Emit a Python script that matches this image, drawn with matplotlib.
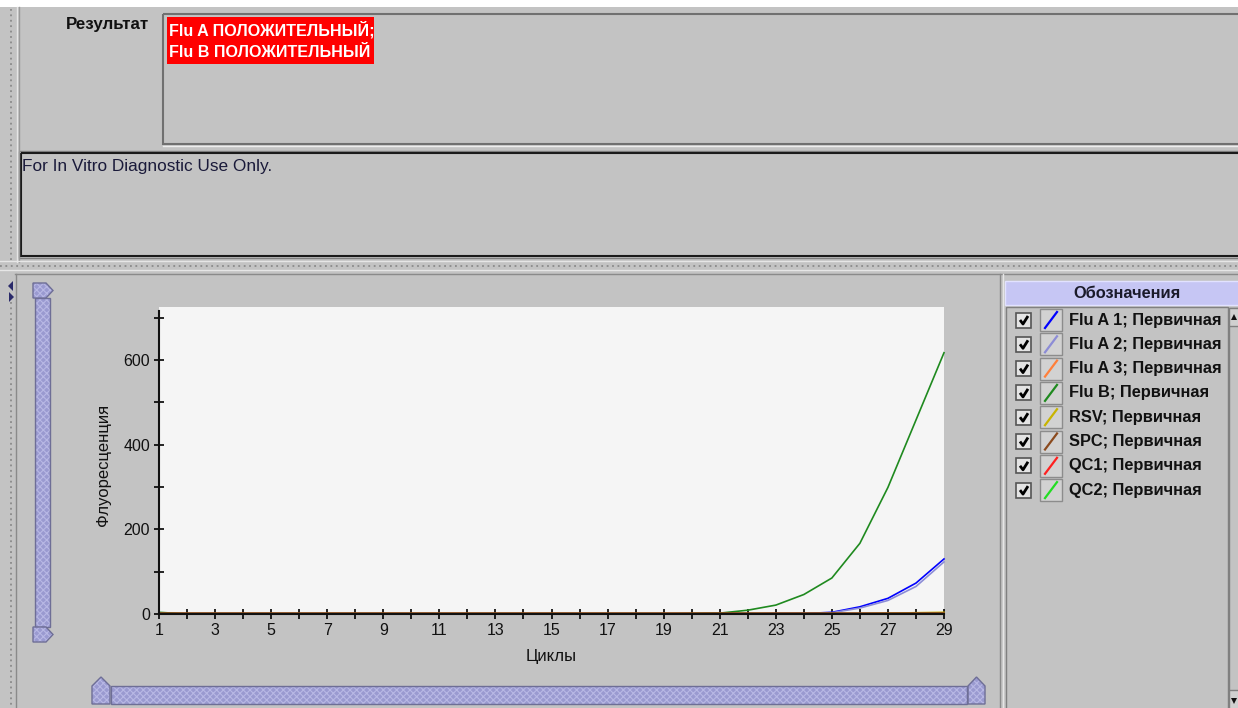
import matplotlib
matplotlib.use("Agg")
import matplotlib.pyplot as plt
from matplotlib.patches import Rectangle, Polygon

# ---- data ----
cycles = [1, 2, 3, 4, 5, 6, 7, 8, 9, 10, 11, 12, 13, 14, 15, 16, 17, 18, 19, 20,
          21, 22, 23, 24, 25, 26, 27, 28, 29]
flu_a1 = [0, 0, 0, 0, 0, 0, 0, 0, 0, 0, 0, 0, 0, 0, 0, 0, 0, 0, 0, 0,
          0, 0, 1, 1, 4, 17, 37, 73, 130]
flu_a2 = [0, 0, 0, 0, 0, 0, 0, 0, 0, 0, 0, 0, 0, 0, 0, 0, 0, 0, 0, 0,
          0, 0, 0, 1, 3, 14, 32, 65, 123]
flu_a3 = [1, 1, 1, 1, 1, 1, 1, 1, 1, 1, 1, 1, 1, 1, 1, 1, 1, 1, 1, 1,
          1, 1, 1, 1, 1, 1, 1, 1, 1]
flu_b = [4, 0, 0, 0, 0, 0, 0, 0, 0, 0, 0, 0, 0, 0, 0, 0, 0, 0, 0, 1,
         2, 9, 21, 46, 85, 167, 299, 458, 617]
rsv = [1, 1, 1, 1, 1, 1, 1, 1, 1, 1, 1, 1, 1, 1, 1, 1, 1, 1, 1, 1,
       1, 1, 1, 1, 1, 1, 2, 3, 4]
spc = [2, 2, 2, 2, 2, 2, 2, 2, 2, 2, 2, 2, 2, 2, 2, 2, 2, 2, 2, 2,
       2, 2, 2, 2, 2, 2, 2, 2, 2]
qc1 = [0, 0, 0, 0, 0, 0, 0, 0, 0, 0, 0, 0, 0, 0, 0, 0, 0, 0, 0, 0,
       0, 0, 0, 0, 0, 0, 0, 0, 0]
qc2 = [0, 0, 0, 0, 0, 0, 0, 0, 0, 0, 0, 0, 0, 0, 0, 0, 0, 0, 0, 0,
       0, 0, 0, 0, 0, 0, 0, 0, 0]

series_labels = ["Flu A 1; Первичная", "Flu A 2; Первичная", "Flu A 3; Первичная",
                 "Flu B; Первичная", "RSV; Первичная", "SPC; Первичная",
                 "QC1; Первичная", "QC2; Первичная"]
series_values = [flu_a1, flu_a2, flu_a3, flu_b, rsv, spc, qc1, qc2]
series_colors = ["#0000ff", "#8c8cd6", "#ff7f3a", "#1f8a1f",
                 "#c8b400", "#8b4a1e", "#ff2020", "#22dd22"]

result_lines = ["Flu A ПОЛОЖИТЕЛЬНЫЙ;", "Flu B ПОЛОЖИТЕЛЬНЫЙ"]
note_text = "For In Vitro Diagnostic Use Only."

plt.rcParams["font.family"] = ["Liberation Sans", "DejaVu Sans"]
plt.rcParams["hatch.linewidth"] = 0.8

W, H = 1238, 708
bg = "#c3c3c3"
fig = plt.figure(figsize=(W / 100, H / 100), dpi=100, facecolor=bg)

# overlay in pixel coordinates for the window furniture
ov = fig.add_axes([0, 0, 1, 1], zorder=0)
ov.set_xlim(0, W)
ov.set_ylim(H, 0)
ov.axis("off")


def rect(x0, y0, x1, y1, **kw):
    ov.add_patch(Rectangle((x0, y0), x1 - x0, y1 - y0, **kw))


def hline(x0, x1, y, **kw):
    ov.plot([x0, x1], [y, y], **kw)


def vline(x, y0, y1, **kw):
    ov.plot([x, x], [y0, y1], **kw)


dots = dict(color="#8a8a8a", lw=1.3, ls=(0, (1, 2)))

# top white strip and splitters
rect(0, 0, W, 7, facecolor="white", edgecolor="none")
vline(11, 9, 260, **dots)
vline(17, 7, 262, color="#e6e6e6", lw=1)
vline(19, 7, 262, color="#9a9a9a", lw=1)
hline(0, W, 261, color="#e6e6e6", lw=1)
hline(0, W, 265.5, **dots)
hline(0, W, 270, color="#e6e6e6", lw=1)
hline(15, W, 274, color="#8a8a8a", lw=1)
vline(11, 302, 708, **dots)
vline(16, 274, 708, color="#8a8a8a", lw=1)

# result label and box
ov.text(66, 25, "Результат", fontsize=12.2, fontweight="bold",
        color="#111111", va="center", ha="left")
rect(163, 14, W + 5, 144, facecolor="none", edgecolor="#707070", lw=1.5)
hline(163, W, 146, color="#eeeeee", lw=1)
rect(167, 17, 374, 64, facecolor="#ff0000", edgecolor="none")
for i, line in enumerate(result_lines):
    ov.text(169, 29.5 + i * 23, line, fontsize=11.6, fontweight="bold", color="white",
            va="center", ha="left")

# diagnostic note box
rect(19, 151, W + 5, 258, facecolor="none", edgecolor="#808080", lw=1)
rect(21, 153, W + 5, 256, facecolor="none", edgecolor="#1a1a1a", lw=1.5)
ov.text(22, 167, note_text, fontsize=12.4, color="#1a1a3a", va="center", ha="left")

# small collapse arrows
ov.add_patch(Polygon([(13, 281), (13, 291), (8, 286)], closed=True,
                     facecolor="#2a2a6a", edgecolor="none"))
ov.add_patch(Polygon([(9, 292), (9, 302), (14, 297)], closed=True,
                     facecolor="#2a2a6a", edgecolor="none"))

# sliders
slider_kw = dict(facecolor="#9a9ad0", edgecolor="#b8b8e4", hatch="xxxxx", lw=0)
border_kw = dict(facecolor="none", edgecolor="#6e6e96", lw=1)
rect(35, 298, 50, 627, **slider_kw)
rect(35, 298, 50, 627, **border_kw)
for pts in ([(33, 283), (46, 283), (53, 290.5), (46, 298), (33, 298)],
            [(33, 627), (46, 627), (53, 634.5), (46, 642), (33, 642)],
            [(92, 704), (92, 686), (101, 677), (110, 686), (110, 704)],
            [(968, 704), (968, 686), (976.5, 677), (985, 686), (985, 704)]):
    ov.add_patch(Polygon(pts, closed=True, **slider_kw))
    ov.add_patch(Polygon(pts, closed=True, **border_kw))
rect(111, 686, 967, 704, **slider_kw)
rect(111, 686, 967, 704, **border_kw)

# axis labels
ov.text(551, 657, "Циклы", fontsize=12, color="#111111", ha="center", va="center")
ov.text(103, 465, "Флуоресценция", fontsize=12, color="#111111", ha="center",
        va="center", rotation=90)

# legend panel
vline(1000, 274, 708, color="#8a8a8a", lw=1)
vline(1003, 274, 708, color="#e6e6e6", lw=1)
rect(1005, 281, W + 2, 305, facecolor="#c6c6f4", edgecolor="#e2e2ff", lw=1)
ov.text(1127, 294, "Обозначения", fontsize=11.8, fontweight="bold",
        color="#1a1a2a", ha="center", va="center")
rect(1006, 307, 1228, 712, facecolor="none", edgecolor="#808080", lw=1)
rect(1229, 308, W + 2, 712, facecolor="#c3c3c3", edgecolor="#808080", lw=1)
rect(1229, 308, W + 2, 326, facecolor="#d0d0d0", edgecolor="#808080", lw=1)
rect(1229, 690, W + 2, 712, facecolor="#d0d0d0", edgecolor="#808080", lw=1)
ov.add_patch(Polygon([(1231, 320), (1237, 320), (1234, 314)], closed=True,
                     facecolor="#111111", edgecolor="none"))
ov.add_patch(Polygon([(1231, 698), (1237, 698), (1234, 704)], closed=True,
                     facecolor="#111111", edgecolor="none"))

row_y0, row_step = 320, 24.3
for i, (label, color) in enumerate(zip(series_labels, series_colors)):
    cy = row_y0 + i * row_step
    rect(1016, cy - 7.5, 1031, cy + 7.5, facecolor="#e4e4e4", edgecolor="#555555", lw=1.2)
    ov.plot([1020, 1023, 1028], [cy, cy + 4, cy - 4], color="black", lw=2,
            solid_capstyle="butt")
    rect(1040, cy - 11, 1062, cy + 11, facecolor="#d2d2d2", edgecolor="#8c8c8c", lw=1)
    ov.plot([1045, 1057], [cy + 8, cy - 8], color=color, lw=1.6)
    ov.text(1069, cy, label, fontsize=11.8, fontweight="bold", color="#111111",
            ha="left", va="center")

# ---- the chart itself ----
ax = fig.add_axes([159 / W, 1 - 614 / H, (944 - 159) / W, (614 - 307) / H], zorder=2)
ax.set_facecolor("#f5f5f5")
for label, vals, color in zip(series_labels, series_values, series_colors):
    ax.plot(cycles, vals, color=color, lw=1.2, clip_on=False)
ax.set_xlim(1, 29)
ax.set_ylim(0, 725)
ax.set_xticks(cycles)
ax.set_xticklabels([str(c) if c % 2 == 1 else "" for c in cycles])
yt = [0, 100, 200, 300, 400, 500, 600, 700]
ax.set_yticks(yt)
ax.set_yticklabels([str(v) if v % 200 == 0 else "" for v in yt])
ax.tick_params(direction="inout", length=7, width=1.2, labelsize=11.5,
               labelcolor="#111111", pad=3)
for side in ("top", "right"):
    ax.spines[side].set_visible(False)
for side in ("left", "bottom"):
    ax.spines[side].set_linewidth(1.5)
    ax.spines[side].set_color("#111111")
ax.spines["left"].set_bounds(0, 715)

fig.savefig("out.png", dpi=100, facecolor=bg)
